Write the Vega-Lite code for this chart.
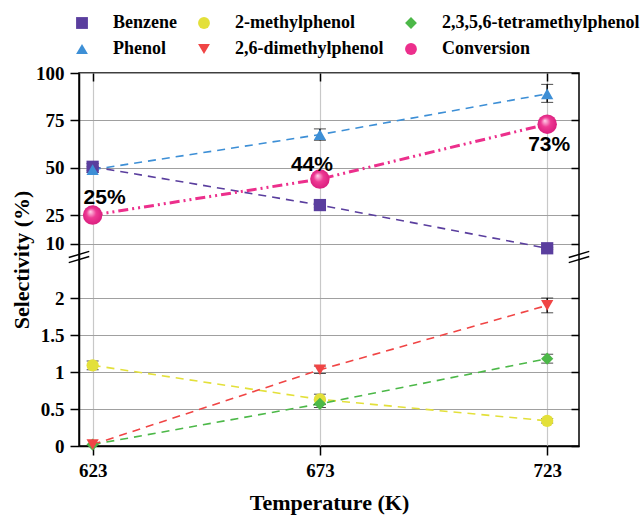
{
  "$schema": "https://vega.github.io/schema/vega-lite/v6.json",
  "width": 500,
  "height": 373,
  "autosize": "none",
  "padding": {"left": 79, "top": 73, "right": 64, "bottom": 70},
  "background": "white",
  "config": {
    "view": {"stroke": "black", "strokeWidth": 1.5},
    "font": "Liberation Serif"
  },
  "datasets": {
    "main": [
      {"s": "Benzene", "T": 623, "v": 50.5, "lo": 48.7, "hi": 52.3},
      {"s": "Benzene", "T": 673, "v": 30.3, "lo": 29.0, "hi": 31.6},
      {"s": "Benzene", "T": 723, "v": 7.5, "lo": 7.0, "hi": 8.0},
      {"s": "2-methylphenol", "T": 623, "v": 1.09, "lo": 1.03, "hi": 1.15},
      {"s": "2-methylphenol", "T": 673, "v": 0.63, "lo": 0.56, "hi": 0.7},
      {"s": "2-methylphenol", "T": 723, "v": 0.34, "lo": 0.31, "hi": 0.37},
      {"s": "2,3,5,6-tetramethylphenol", "T": 623, "v": 0.02},
      {"s": "2,3,5,6-tetramethylphenol", "T": 673, "v": 0.57, "lo": 0.52, "hi": 0.62},
      {"s": "2,3,5,6-tetramethylphenol", "T": 723, "v": 1.18, "lo": 1.12, "hi": 1.24},
      {"s": "Phenol", "T": 623, "v": 49, "lo": 47.5, "hi": 50.5},
      {"s": "Phenol", "T": 673, "v": 67.5, "lo": 64.5, "hi": 70.5},
      {"s": "Phenol", "T": 723, "v": 89, "lo": 84.5, "hi": 94},
      {"s": "2,6-dimethylphenol", "T": 623, "v": 0.02},
      {"s": "2,6-dimethylphenol", "T": 673, "v": 1.03, "lo": 0.98, "hi": 1.08},
      {"s": "2,6-dimethylphenol", "T": 723, "v": 1.9, "lo": 1.8, "hi": 2.0},
      {"s": "Conversion", "T": 623, "v": 25, "lab": "25%"},
      {"s": "Conversion", "T": 673, "v": 44, "lab": "44%"},
      {"s": "Conversion", "T": 723, "v": 73, "lab": "73%"}
    ],
    "breaks": [
      {"T": 620, "v": 3.75},
      {"T": 730, "v": 3.75}
    ]
  },
  "data": {"name": "main"},
  "encoding": {
    "x": {"field": "T", "type": "quantitative", "scale": {"domain": [620, 730], "nice": false, "zero": false}, "axis": null},
    "y": {"field": "v", "type": "quantitative", "scale": {"domain": [0, 2.5, 5, 100], "range": [373, 188, 180, 0], "nice": false, "zero": false}, "axis": null}
  },
  "resolve": {"axis": {"x": "independent", "y": "independent"}, "legend": {"color": "independent", "shape": "independent"}},
  "layer": [
    {
      "transform": [{"filter": "datum.s != 'Conversion'"}],
      "mark": {"type": "line", "strokeDash": [8, 6], "strokeWidth": 1.6},
      "encoding": {
        "x": {"field": "T", "type": "quantitative", "scale": {"domain": [620, 730], "nice": false, "zero": false},
          "axis": {"orient": "bottom", "values": [623, 673, 723], "grid": true, "gridColor": "#c8c8c8", "gridWidth": 1.2,
            "tickSize": 9, "tickColor": "black", "tickWidth": 1.5, "domainColor": "black", "domainWidth": 1.5,
            "labelFont": "Liberation Serif", "labelFontWeight": "bold", "labelFontSize": 19, "labelColor": "black", "labelPadding": 6,
            "title": "Temperature (K)", "titleFont": "Liberation Serif", "titleFontWeight": "bold", "titleFontSize": 22, "titleColor": "black", "titlePadding": 12}},
        "y": {"field": "v", "type": "quantitative", "scale": {"domain": [0, 2.5, 5, 100], "range": [373, 188, 180, 0], "nice": false, "zero": false},
          "axis": {"orient": "left", "values": [0, 0.5, 1, 1.5, 2, 10, 25, 50, 75, 100], "format": ".1~f", "grid": true, "gridColor": "#a0a0a0", "gridWidth": 1.2,
            "tickSize": 9, "tickColor": "black", "tickWidth": 1.5, "domainColor": "black", "domainWidth": 1.5,
            "labelFont": "Liberation Serif", "labelFontWeight": "bold", "labelFontSize": 19, "labelColor": "black", "labelPadding": 6,
            "title": "Selectivity (%)", "titleFont": "Liberation Serif", "titleFontWeight": "bold", "titleFontSize": 22, "titleColor": "black", "titlePadding": 2}},
        "color": {"field": "s", "type": "nominal", "legend": null,
          "scale": {"domain": ["Benzene", "2-methylphenol", "2,3,5,6-tetramethylphenol", "Phenol", "2,6-dimethylphenol", "Conversion"],
            "range": ["#5a3e9e", "#e3e03a", "#4cb848", "#3d8fd6", "#f04545", "#ec2f8c"]}}
      }
    },
    {
      "transform": [{"filter": "datum.s == 'Conversion'"}],
      "mark": {"type": "line", "strokeDash": [10, 4, 2, 4, 2, 4], "strokeWidth": 3, "color": "#ec2f8c"},
      "encoding": {}
    },
    {
      "transform": [{"filter": "isValid(datum.lo)"}],
      "mark": {"type": "errorbar", "ticks": {"size": 12, "color": "black", "strokeWidth": 1.5}, "rule": {"color": "black", "strokeWidth": 1.5}},
      "encoding": {
        "y": {"field": "lo", "type": "quantitative", "scale": {"domain": [0, 2.5, 5, 100], "range": [373, 188, 180, 0], "nice": false, "zero": false}, "axis": null},
        "y2": {"field": "hi"}
      }
    },
    {
      "mark": {"type": "point", "filled": true, "opacity": 1, "size": 150},
      "encoding": {
        "color": {"field": "s", "type": "nominal",
          "scale": {"domain": ["Benzene", "2-methylphenol", "2,3,5,6-tetramethylphenol", "Phenol", "2,6-dimethylphenol", "Conversion"],
            "range": ["#5a3e9e", "#e3e03a", "#4cb848", "#3d8fd6", "#f04545", "#ec2f8c"]},
          "legend": {"orient": "none", "legendX": -6, "legendY": -59, "columns": 3, "direction": "horizontal", "title": null,
            "labelFont": "Liberation Serif", "labelFontWeight": "bold", "labelFontSize": 18, "labelColor": "black", "labelLimit": 400,
            "symbolSize": 140, "labelOffset": 22, "columnPadding": 18, "rowPadding": 8, "padding": 0}},
        "shape": {"field": "s", "type": "nominal",
          "scale": {"domain": ["Benzene", "2-methylphenol", "2,3,5,6-tetramethylphenol", "Phenol", "2,6-dimethylphenol", "Conversion"],
            "range": ["square", "circle", "diamond", "triangle-up", "triangle-down", "circle"]},
          "legend": {"orient": "none", "legendX": -6, "legendY": -59, "columns": 3, "direction": "horizontal", "title": null,
            "labelFont": "Liberation Serif", "labelFontWeight": "bold", "labelFontSize": 18, "labelColor": "black", "labelLimit": 400,
            "symbolSize": 140, "labelOffset": 22, "columnPadding": 18, "rowPadding": 8, "padding": 0}}
      }
    },
    {
      "transform": [{"filter": "datum.s == 'Conversion'"}],
      "mark": {"type": "point", "filled": true, "opacity": 1, "size": 380, "shape": "circle",
        "fill": {"gradient": "radial", "x1": 0.38, "y1": 0.32, "x2": 0.5, "y2": 0.5, "r1": 0, "r2": 0.55,
          "stops": [{"offset": 0, "color": "#ffd6ec"}, {"offset": 0.45, "color": "#ee3a94"}, {"offset": 1, "color": "#d81b7c"}]}},
      "encoding": {}
    },
    {
      "transform": [{"filter": "datum.s == 'Conversion' && datum.T == 623"}],
      "mark": {"type": "text", "font": "Liberation Sans", "fontWeight": "bold", "fontSize": 21, "color": "black", "dx": 12, "dy": -17},
      "encoding": {"text": {"field": "lab"}}
    },
    {
      "transform": [{"filter": "datum.s == 'Conversion' && datum.T == 673"}],
      "mark": {"type": "text", "font": "Liberation Sans", "fontWeight": "bold", "fontSize": 21, "color": "black", "dx": -8, "dy": -14},
      "encoding": {"text": {"field": "lab"}}
    },
    {
      "transform": [{"filter": "datum.s == 'Conversion' && datum.T == 723"}],
      "mark": {"type": "text", "font": "Liberation Sans", "fontWeight": "bold", "fontSize": 21, "color": "black", "dx": 2, "dy": 21},
      "encoding": {"text": {"field": "lab"}}
    },
    {
      "data": {"name": "breaks"},
      "mark": {"type": "point", "filled": false, "shape": "M -1 0.05 L 1 -0.55 M -1 0.55 L 1 -0.05", "size": 420, "stroke": "black", "strokeWidth": 1.5, "opacity": 1},
      "encoding": {
        "x": {"field": "T", "type": "quantitative", "scale": {"domain": [620, 730], "nice": false, "zero": false},
          "axis": {"orient": "top", "values": [623, 673, 723], "labels": false, "grid": false, "domain": false, "tickSize": -8, "tickColor": "black", "tickWidth": 1.5, "title": null}},
        "y": {"field": "v", "type": "quantitative", "scale": {"domain": [0, 2.5, 5, 100], "range": [373, 188, 180, 0], "nice": false, "zero": false},
          "axis": {"orient": "right", "values": [0, 0.5, 1, 1.5, 2, 10, 25, 50, 75, 100], "labels": false, "grid": false, "domain": false, "tickSize": -8, "tickColor": "black", "tickWidth": 1.5, "title": null}}
      }
    }
  ]
}
